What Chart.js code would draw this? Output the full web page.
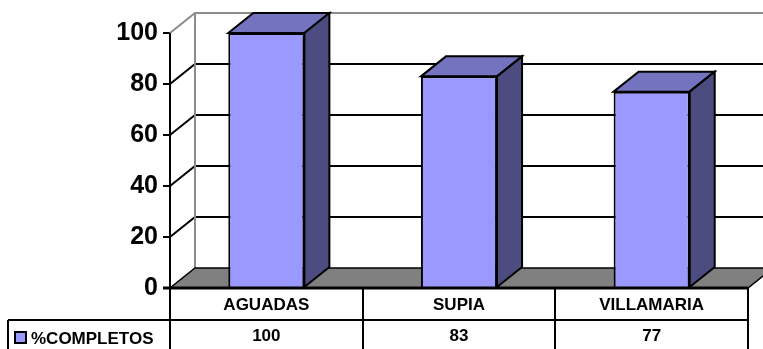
<!DOCTYPE html>
<html lang="es">
<head>
<meta charset="UTF-8">
<title>%COMPLETOS</title>
<script src="https://cdn.jsdelivr.net/npm/chart.js"></script>
<style>
    body {
        margin: 0;
        background: #fff;
    }
    #wrap {
        width: 763px;
        height: 349px;
        position: relative;
    }
</style>
</head>
<body>
<div id="wrap"><canvas id="chart" width="763" height="349"></canvas></div>
<script>
    const categories = ['AGUADAS', 'SUPIA', 'VILLAMARIA'];
    const seriesName = '%COMPLETOS';
    const completos = [100, 83, 77];
    const yTicks = [0, 20, 40, 60, 80, 100];

    // depth of the fake 3d box
    const DX = 25;
    const DY = -20;
    const FONT = '"Liberation Sans", Arial, sans-serif';

    const box3d = {
        id: 'box3d',
        beforeDatasetsDraw(chart) {
            const ctx = chart.ctx;
            const y = chart.scales.y;
            const x0 = chart.chartArea.left;
            const x1 = chart.chartArea.right;
            const yMax = y.getPixelForValue(yTicks[yTicks.length - 1]);
            const y0 = y.getPixelForValue(0);
            ctx.save();
            ctx.lineCap = 'butt';

            // gridlines on back wall + left wall
            yTicks.forEach(v => {
                if (v === 0) return;
                const py = y.getPixelForValue(v);
                const top = v === yTicks[yTicks.length - 1];
                ctx.strokeStyle = top ? '#8c8c8c' : '#000';
                ctx.lineWidth = 2;
                ctx.beginPath();
                ctx.moveTo(x0, py);
                ctx.lineTo(x0 + DX, py + DY);
                ctx.lineTo(x1 + DX + 10, py + DY);
                ctx.stroke();
            });

            // back wall left edge
            ctx.strokeStyle = '#8c8c8c';
            ctx.lineWidth = 2;
            ctx.beginPath();
            ctx.moveTo(x0 + DX, yMax + DY);
            ctx.lineTo(x0 + DX, y0 + DY);
            ctx.stroke();

            // floor
            ctx.fillStyle = '#808080';
            ctx.strokeStyle = '#000';
            ctx.lineWidth = 1.5;
            ctx.beginPath();
            ctx.moveTo(x0, y0);
            ctx.lineTo(x1, y0);
            ctx.lineTo(x1 + DX, y0 + DY);
            ctx.lineTo(x0 + DX, y0 + DY);
            ctx.closePath();
            ctx.fill();
            ctx.stroke();
            ctx.restore();
        },
        afterDatasetsDraw(chart) {
            const ctx = chart.ctx;
            const meta = chart.getDatasetMeta(0);
            ctx.save();
            ctx.strokeStyle = '#000';
            ctx.lineWidth = 2;
            ctx.lineJoin = 'miter';
            meta.data.forEach(bar => {
                const p = bar.getProps(['x', 'y', 'width', 'base'], true);
                const l = p.x - p.width / 2;
                const r = p.x + p.width / 2;
                // top face
                ctx.fillStyle = '#7373bf';
                ctx.beginPath();
                ctx.moveTo(l, p.y);
                ctx.lineTo(l + DX, p.y + DY);
                ctx.lineTo(r + DX, p.y + DY);
                ctx.lineTo(r, p.y);
                ctx.closePath();
                ctx.fill();
                ctx.stroke();
                // side face
                ctx.fillStyle = '#4c4c80';
                ctx.beginPath();
                ctx.moveTo(r, p.y);
                ctx.lineTo(r + DX, p.y + DY);
                ctx.lineTo(r + DX, p.base + DY);
                ctx.lineTo(r, p.base);
                ctx.closePath();
                ctx.fill();
                ctx.stroke();
            });
            ctx.restore();
        },
        afterDraw(chart) {
            const ctx = chart.ctx;
            const y = chart.scales.y;
            const x = chart.scales.x;
            const x0 = chart.chartArea.left;
            const x1 = chart.chartArea.right;
            const y0 = y.getPixelForValue(0);
            const yMax = y.getPixelForValue(yTicks[yTicks.length - 1]);
            const H = chart.height;
            const rowY = 320;
            const legendX = 8;
            const catW = (x1 - x0) / categories.length;
            ctx.save();
            ctx.strokeStyle = '#000';

            // y axis line, runs down through the table
            ctx.lineWidth = 2;
            ctx.beginPath();
            ctx.moveTo(x0, yMax);
            ctx.lineTo(x0, H);
            ctx.stroke();

            // floor front edge
            ctx.lineWidth = 3;
            ctx.beginPath();
            ctx.moveTo(x0 - 7, y0);
            ctx.lineTo(x1, y0);
            ctx.stroke();

            // data table grid
            ctx.lineWidth = 2;
            ctx.beginPath();
            ctx.moveTo(legendX, rowY);
            ctx.lineTo(x1, rowY);
            ctx.moveTo(legendX, rowY);
            ctx.lineTo(legendX, H);
            for (let i = 1; i <= categories.length; i++) {
                const vx = Math.round(x0 + i * catW);
                ctx.moveTo(vx, y0);
                ctx.lineTo(vx, H);
            }
            ctx.stroke();

            ctx.fillStyle = '#000';
            ctx.font = 'bold 17px ' + FONT;
            ctx.textAlign = 'center';
            ctx.textBaseline = 'middle';
            categories.forEach((c, i) => {
                const cx = x.getPixelForValue(i);
                ctx.fillText(c, cx, 305);
                ctx.fillText(String(completos[i]), cx, 336);
            });

            // legend key + series name
            ctx.fillStyle = '#9999ff';
            ctx.fillRect(15, 332, 11, 11);
            ctx.strokeRect(15, 332, 11, 11);
            ctx.fillStyle = '#000';
            ctx.textAlign = 'left';
            ctx.fillText(seriesName, 31, 339);
            ctx.restore();
        }
    };

    new Chart(document.getElementById('chart'), {
        type: 'bar',
        data: {
            labels: categories,
            datasets: [{
                label: seriesName,
                data: completos,
                backgroundColor: '#9999ff',
                borderColor: '#000',
                borderWidth: 2,
                borderSkipped: 'bottom',
                categoryPercentage: 1,
                barPercentage: 0.395
            }]
        },
        options: {
            responsive: false,
            animation: false,
            events: [],
            layout: {
                padding: { top: 33, right: 15, bottom: 61, left: 0 }
            },
            plugins: {
                legend: { display: false },
                tooltip: { enabled: false },
                title: { display: false }
            },
            scales: {
                x: {
                    display: false,
                    offset: true
                },
                y: {
                    min: 0,
                    max: 100,
                    afterFit(scale) {
                        scale.width = 170;
                    },
                    afterBuildTicks(scale) {
                        scale.ticks = yTicks.map(v => ({ value: v }));
                    },
                    border: { display: false },
                    grid: {
                        drawOnChartArea: false,
                        drawTicks: true,
                        tickLength: 7,
                        color: '#000',
                        lineWidth: 2
                    },
                    ticks: {
                        padding: 5,
                        color: '#000',
                        font: { family: FONT, size: 25, weight: 'bold' }
                    }
                }
            }
        },
        plugins: [box3d]
    });
</script>
</body>
</html>
